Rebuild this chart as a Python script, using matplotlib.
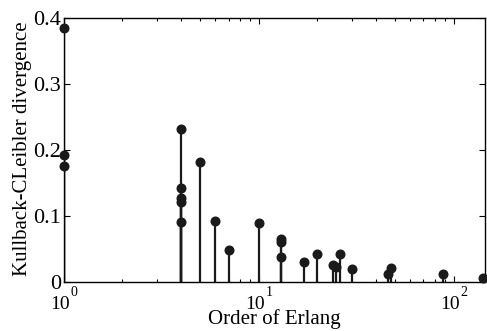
import matplotlib
matplotlib.use("Agg")
import matplotlib.pyplot as plt
from matplotlib.ticker import LogLocator, FixedLocator, NullFormatter
from matplotlib.transforms import ScaledTranslation

order = [1, 1, 1, 4, 4, 4, 4, 4, 5, 6, 7, 10, 13, 13, 13, 17, 20, 24, 25, 26, 30, 46, 48, 88, 141]
kl = [0.384, 0.192, 0.176, 0.231, 0.143, 0.127, 0.121, 0.091, 0.181, 0.093, 0.048, 0.090,
      0.065, 0.060, 0.038, 0.030, 0.043, 0.026, 0.022, 0.043, 0.019, 0.012, 0.021, 0.012, 0.0056]
yticks = [0, 0.1, 0.2, 0.3, 0.4]
ytick_labels = ["0", "0.1", "0.2", "0.3", "0.4"]
xticks = [1, 10, 100]
xtick_exponents = ["0", "1", "2"]

plt.rcParams['font.family'] = ['Liberation Serif', 'DejaVu Serif']

fig = plt.figure(figsize=(4.87, 3.31), dpi=100)
ax = fig.add_axes([0.131, 0.148, 0.865, 0.798])

for x, y in zip(order, kl):
    ax.plot([x, x], [0, y], color='#1a1a1a', lw=1.6, solid_capstyle='butt', zorder=2)
ax.plot(order, kl, 'o', color='#1a1a1a', ms=6.2, clip_on=False, zorder=3)

ax.set_xscale('log')
ax.set_xlim(1, 145)
ax.set_ylim(0, 0.4)
ax.set_yticks(yticks)
ax.set_yticklabels(ytick_labels)
ax.xaxis.set_major_locator(FixedLocator(xticks))
ax.set_xticklabels([])
ax.xaxis.set_minor_locator(LogLocator(base=10, subs=range(2, 10)))
ax.xaxis.set_minor_formatter(NullFormatter())

ax.tick_params(axis='both', which='both', direction='in', top=True, right=True,
               labelsize=16, pad=2, width=0.8)
ax.tick_params(axis='both', which='major', length=4)
ax.tick_params(axis='x', which='minor', length=2.5)
for s in ax.spines.values():
    s.set_linewidth(1.0)

# x tick labels: base "10" with superscript exponent
xt = ax.get_xaxis_transform()
for xv, ex in zip(xticks, xtick_exponents):
    tb = xt + ScaledTranslation(0.06, -0.27, fig.dpi_scale_trans)
    ax.text(xv, 0, "10", transform=tb, ha='right', va='baseline', fontsize=14, clip_on=False)
    te = xt + ScaledTranslation(0.07, -0.14, fig.dpi_scale_trans)
    ax.text(xv, 0, ex, transform=te, ha='left', va='baseline', fontsize=10, clip_on=False)

ax.set_xlabel('Order of Erlang', fontsize=15)
ax.xaxis.label.set_va('baseline')
ax.xaxis.set_label_coords(0.5, -0.16)
ax.set_ylabel('Kullback-CLeibler divergence', fontsize=15)
ax.yaxis.label.set_va('center')
ax.yaxis.set_label_coords(-0.097, 0.506)

fig.savefig('out.png', dpi=100)
